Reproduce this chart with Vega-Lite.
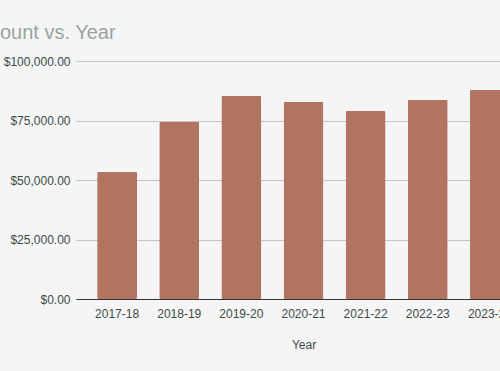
{
  "$schema": "https://vega.github.io/schema/vega-lite/v6.json",
  "autosize": {"type": "none"},
  "padding": {"left": 76, "top": 61, "right": 0, "bottom": 72},
  "width": 424,
  "height": 238,
  "background": "#f5f5f5",
  "title": {
    "text": "Amount vs. Year",
    "anchor": "start",
    "frame": "group",
    "dx": -106,
    "offset": 12,
    "font": "Liberation Sans",
    "fontSize": 20,
    "fontWeight": "normal",
    "color": "#9aa3a1"
  },
  "data": {
    "values": [
      {"Year": "2017-18", "Amount": 53400},
      {"Year": "2018-19", "Amount": 74400},
      {"Year": "2019-20", "Amount": 85300},
      {"Year": "2020-21", "Amount": 82800},
      {"Year": "2021-22", "Amount": 79000},
      {"Year": "2022-23", "Amount": 83600},
      {"Year": "2023-24", "Amount": 87800}
    ]
  },
  "mark": {"type": "bar", "color": "#b07460", "cornerRadius": 1.5},
  "encoding": {
    "x": {
      "field": "Year",
      "type": "nominal",
      "sort": null,
      "scale": {"paddingInner": 0.357, "paddingOuter": 0.34, "range": [0, 455]},
      "axis": {
        "title": "Year",
        "labelAngle": 0,
        "ticks": false,
        "domainColor": "#333333",
        "domainWidth": 1,
        "labelPadding": 9,
        "titlePadding": 20,
        "grid": false
      }
    },
    "y": {
      "field": "Amount",
      "type": "quantitative",
      "scale": {"domain": [0, 100000], "nice": false},
      "axis": {
        "title": null,
        "values": [0, 25000, 50000, 75000, 100000],
        "format": "$,.2f",
        "ticks": false,
        "domain": false,
        "labelPadding": 6,
        "gridColor": "#c4c4c4",
        "gridWidth": 1
      }
    }
  },
  "config": {
    "view": {"stroke": null},
    "axis": {
      "labelFont": "Liberation Sans",
      "labelFontSize": 12,
      "labelColor": "#3d4b49",
      "titleFont": "Liberation Sans",
      "titleFontSize": 12,
      "titleFontWeight": "normal",
      "titleColor": "#3d4b49"
    }
  }
}
